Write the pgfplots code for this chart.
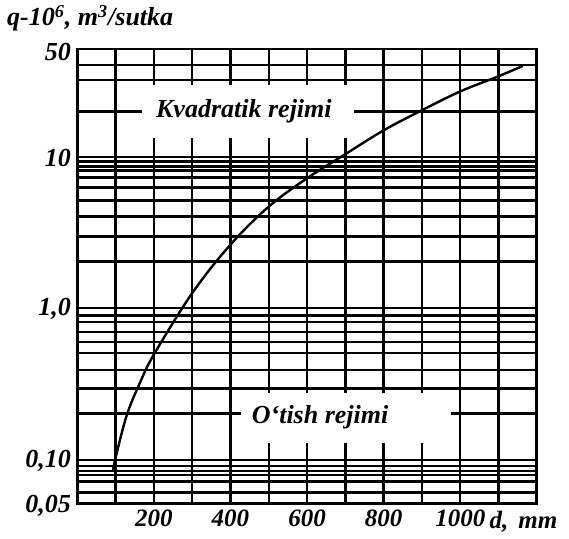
\documentclass[border=0pt]{standalone}
\usepackage{fontspec}
\setmainfont{Liberation Serif}
\usepackage{pgfplots}
\pgfplotsset{compat=1.18}
\begin{document}
\begin{tikzpicture}
\begin{axis}[
  at={(0pt,0pt)}, anchor=south west,
  scale only axis, width=229.8pt, height=227.2pt,
  xmin=0, xmax=1200, ymode=log, ymin=0.05, ymax=50,
  xtick={100,200,...,1100},
  xticklabels={,200,,400,,600,,800,,1000,},
  ytick={0.05,0.1,1,10,50},
  yticklabels={{0,05},{0,10},{1,0},{10},{50}},
  minor ytick={0.059,0.0697,0.077,0.082,0.088,0.0966,0.196,0.287,0.38,0.49,0.58,0.676,0.787,0.87,0.97,1.98,2.89,3.91,4.98,6.07,7.07,7.86,8.35,9.05,9.71,19.3,31.1,39.2},
  xmajorgrids=true, yminorgrids=true, ymajorgrids=false,
  major grid style={black, line width=1.2pt},
  minor grid style={black, line width=1.2pt},
  major tick length=0pt, minor tick length=0pt,
  axis line style={line width=1.4pt},
  yticklabel style={font=\fontsize{13}{15}\selectfont\bfseries\itshape, yshift=-1.5pt, inner sep=3pt},
  xticklabel style={font=\fontsize{12.5}{14}\selectfont\bfseries\itshape, inner sep=3pt},
  clip=false,
]
\fill[white] (axis cs:168,12.9) rectangle (axis cs:723,29);
\node[anchor=base, font=\fontsize{13}{15}\selectfont\bfseries\itshape] at (axis cs:435,17.5) {Kvadratik rejimi};
\fill[white] (axis cs:428,0.1244) rectangle (axis cs:977,0.2656);
\node[anchor=base, font=\fontsize{13}{15}\selectfont\bfseries\itshape] at (axis cs:634,0.1692) {O‘tish rejimi};
\addplot[black, line width=1.2pt, smooth, tension=0.6] coordinates {
  (93,0.082) (100,0.10) (129,0.19) (163,0.31) (200,0.48) (300,1.22) (400,2.55)
  (500,4.55) (600,7.0) (700,10.1) (800,14.5) (900,19.7) (1000,26.2) (1100,33.0) (1163,38.6)
};
\end{axis}
\node[anchor=base west, inner sep=0pt, font=\fontsize{13}{15}\selectfont\bfseries\itshape] at (-35.3pt,238.7pt) {q-10\textsuperscript{6}, m\textsuperscript{3}/sutka};
\node[anchor=base west, font=\fontsize{12.5}{14}\selectfont\bfseries\itshape, inner sep=0pt] at (206pt,-12.5pt) {d,\hspace{5pt}mm};
\path (-38.65pt,-17.85pt) rectangle (245.85pt,251.65pt);
\end{tikzpicture}
\end{document}
